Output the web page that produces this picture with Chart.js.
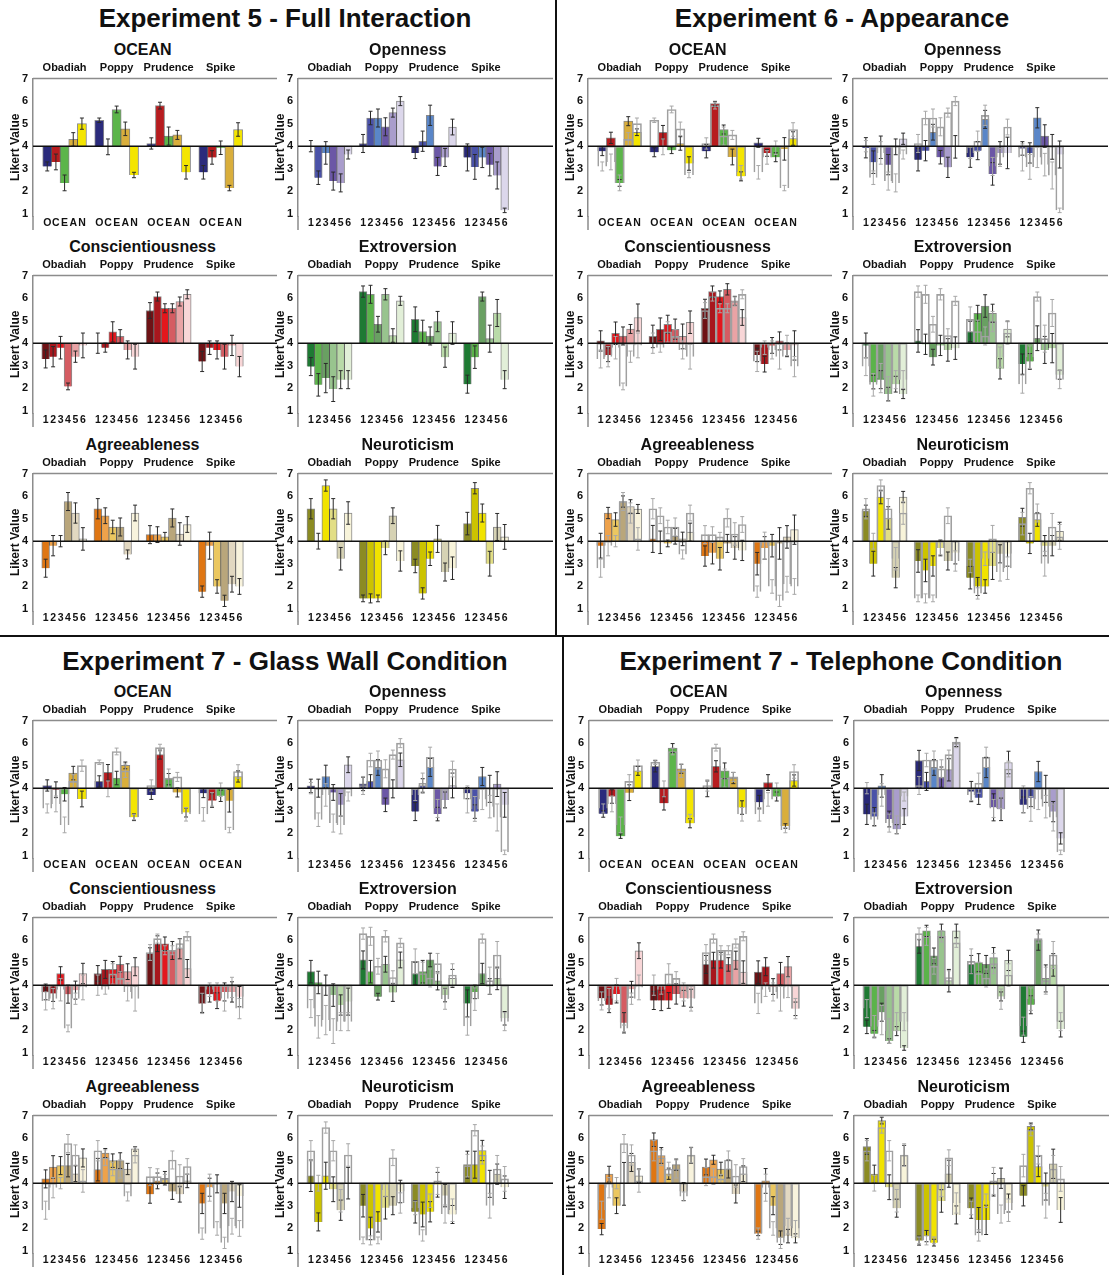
<!DOCTYPE html>
<html>
<head>
<meta charset="utf-8">
<script src="https://cdn.jsdelivr.net/npm/chart.js@4.4.1/dist/chart.umd.min.js"></script>
<style>
  body { margin: 0; background: #fff; }
  #page { position: relative; width: 1109px; height: 1275px; overflow: hidden; font-family: "Liberation Sans", Arial, sans-serif; color: #111; }
  .lbl { position: absolute; transform: translate(-50%, -50%); font-weight: bold; white-space: nowrap; line-height: 1; }
  .rule { position: absolute; background: #111; }
  canvas { position: absolute; }
</style>
</head>
<body>
<div id="page"></div>
<script>
// labels
const groups = ['Obadiah', 'Poppy', 'Prudence', 'Spike'];
const oceanTicks = ['O', 'C', 'E', 'A', 'N'];
const itemTicks = ['1', '2', '3', '4', '5', '6'];
const yTicks = [1, 2, 3, 4, 5, 6, 7];
const traitTitles = ['OCEAN', 'Openness', 'Conscientiousness', 'Extroversion', 'Agreeableness', 'Neuroticism'];
const panelTitles = ['Experiment 5 - Full Interaction', 'Experiment 6 - Appearance', 'Experiment 7 - Glass Wall Condition', 'Experiment 7 - Telephone Condition'];

// bar colours, one per bar inside a group
const oceanColors = ['#2b2b7c', '#b71c1f', '#5cb54a', '#d9ae3c', '#f4e500'];
const openColors = ['#2a2a78', '#4a52a8', '#5a86c8', '#6b57a6', '#a99dcc', '#dcd7eb'];
const consColors = ['#6e1215', '#a8171d', '#e3171d', '#d55c62', '#e9a3a5', '#f8d6d7'];
const extraColors = ['#1e7a33', '#5bb34a', '#69a062', '#98c48e', '#b9daa8', '#e2efd8'];
const agreeColors = ['#df7613', '#eea24b', '#ebc760', '#b9a67b', '#e2d8c1', '#f8f3dd'];
const neuroColors = ['#8b8b23', '#ccc300', '#f1e300', '#e2de85', '#d6d2b4', '#f8f4da'];

// Experiment 5 - full interaction (also shown as outlines in the other panels)
const e5Ocean = [[3.1, 3.3, 2.37, 4.3, 5.0], [5.15, 3.97, 5.63, 4.77, 2.72], [4.12, 5.8, 4.45, 4.5, 2.84], [2.84, 3.5, 3.93, 2.14, 4.74]];
const e5OceanErr = [[0.2, 0.35, 0.35, 0.3, 0.25], [0.1, 0.35, 0.15, 0.3, 0.12], [0.25, 0.15, 0.4, 0.2, 0.3], [0.3, 0.3, 0.3, 0.12, 0.3]];
const e5Open = [[4.0, 2.6, 3.7, 2.45, 2.37, 3.63], [4.12, 5.25, 5.25, 4.86, 5.49, 6.0], [3.7, 4.22, 5.37, 3.1, 3.5, 4.85], [3.5, 3.08, 3.5, 3.18, 2.7, 1.15]];
const e5OpenErr = [[0.25, 0.3, 0.5, 0.4, 0.4, 0.2], [0.4, 0.3, 0.4, 0.4, 0.2, 0.2], [0.25, 0.45, 0.45, 0.4, 0.4, 0.35], [0.6, 0.55, 0.45, 0.5, 0.6, 0.1]];
const e5Cons = [[3.3, 3.4, 3.8, 2.08, 3.4, 3.9], [4.0, 3.8, 4.5, 4.3, 3.7, 3.4], [5.45, 6.07, 5.55, 5.55, 5.85, 6.17], [3.19, 3.8, 3.7, 3.4, 3.9, 2.96]];
const e5ConsErr = [[0.4, 0.45, 0.5, 0.15, 0.25, 0.55], [0.45, 0.2, 0.45, 0.3, 0.4, 0.55], [0.35, 0.2, 0.2, 0.2, 0.2, 0.2], [0.45, 0.3, 0.4, 0.55, 0.45, 0.45]];
const e5Extra = [[2.96, 2.15, 2.45, 1.96, 2.38, 2.38], [6.29, 6.17, 4.84, 6.17, 4.34, 5.88], [5.06, 4.52, 4.32, 4.96, 3.38, 4.45], [2.18, 3.38, 6.07, 4.2, 5.34, 2.38]];
const e5ExtraErr = [[0.4, 0.5, 0.65, 0.55, 0.4, 0.4], [0.25, 0.4, 0.35, 0.25, 0.3, 0.2], [0.55, 0.5, 0.4, 0.45, 0.45, 0.5], [0.4, 0.5, 0.2, 0.6, 0.6, 0.4]];
const e5Agree = [[2.8, 3.8, 4.0, 5.76, 5.25, 4.1], [5.44, 5.13, 4.63, 4.63, 3.41, 5.25], [4.29, 4.29, 4.19, 5.03, 4.32, 4.74], [1.76, 3.8, 1.99, 1.35, 2.09, 1.99]];
const e5AgreeErr = [[0.4, 0.45, 0.25, 0.4, 0.45, 0.5], [0.45, 0.35, 0.3, 0.4, 0.2, 0.35], [0.4, 0.35, 0.2, 0.4, 0.5, 0.35], [0.25, 0.6, 0.3, 0.25, 0.35, 0.35]];
const e5Neuro = [[5.44, 4.0, 6.47, 5.44, 3.22, 5.25], [1.46, 1.46, 1.46, 3.7, 5.13, 3.12], [2.9, 1.68, 3.22, 4.1, 2.63, 2.8], [4.78, 6.35, 5.25, 3.0, 4.63, 4.19]];
const e5NeuroErr = [[0.45, 0.35, 0.25, 0.45, 0.5, 0.5], [0.15, 0.2, 0.15, 0.3, 0.35, 0.45], [0.3, 0.25, 0.3, 0.6, 0.4, 0.5], [0.5, 0.25, 0.4, 0.55, 0.6, 0.55]];

// Experiment 6 - appearance
const e6Ocean = [[3.78, 4.37, 2.37, 5.11, 4.62], [3.73, 4.62, 3.82, 4.12, 3.23], [3.78, 5.89, 4.74, 3.52, 2.66], [4.15, 3.7, 3.51, 3.88, 4.34]];
const e6OceanErr = [[0.2, 0.25, 0.15, 0.2, 0.15], [0.2, 0.3, 0.15, 0.3, 0.3], [0.3, 0.1, 0.2, 0.35, 0.2], [0.2, 0.15, 0.2, 0.5, 0.3]];
const e6Open = [[3.93, 3.29, 3.95, 3.18, 3.97, 4.33], [3.4, 3.8, 4.62, 3.51, 3.06, 3.97], [3.51, 3.8, 5.19, 2.77, 3.7, 3.7], [3.9, 3.7, 5.26, 4.45, 3.97, 3.63]];
const e6OpenErr = [[0.45, 0.5, 0.5, 0.45, 0.35, 0.25], [0.5, 0.45, 0.35, 0.3, 0.45, 0.5], [0.45, 0.4, 0.4, 0.5, 0.5, 0.7], [0.3, 0.45, 0.45, 0.5, 0.55, 0.6]];
const e6Cons = [[4.1, 3.48, 4.44, 4.32, 4.63, 5.14], [4.3, 4.62, 4.84, 4.62, 4.3, 4.93], [5.55, 6.29, 6.07, 6.39, 5.88, 5.14], [3.48, 3.07, 3.9, 4.1, 3.7, 3.9]];
const e6ConsErr = [[0.45, 0.3, 0.5, 0.4, 0.2, 0.6], [0.5, 0.5, 0.4, 0.45, 0.55, 0.5], [0.4, 0.25, 0.25, 0.25, 0.2, 0.35], [0.3, 0.35, 0.35, 0.4, 0.3, 0.65]];
const e6Extra = [[3.9, 2.27, 2.38, 1.74, 2.18, 1.74], [4.1, 3.95, 3.38, 3.9, 3.7, 3.78], [4.52, 5.33, 5.65, 5.33, 2.86, 4.63], [3.07, 3.19, 4.22, 3.7, 3.78, 2.6]];
const e6ExtraErr = [[0.55, 0.3, 0.4, 0.3, 0.35, 0.2], [0.5, 0.45, 0.35, 0.45, 0.5, 0.5], [0.45, 0.35, 0.5, 0.4, 0.45, 0.35], [0.45, 0.35, 0.55, 0.6, 0.65, 0.2]];
const e6Agree = [[3.8, 5.25, 4.96, 5.76, 5.54, 5.43], [4.1, 3.95, 3.9, 4.22, 4.1, 4.4], [3.34, 3.49, 3.22, 3.9, 3.7, 3.59], [3.0, 3.7, 3.8, 3.9, 4.19, 4.51]];
const e6AgreeErr = [[0.55, 0.25, 0.3, 0.25, 0.3, 0.2], [0.6, 0.5, 0.15, 0.35, 0.3, 0.4], [0.45, 0.5, 0.5, 0.4, 0.5, 0.45], [0.5, 0.5, 0.5, 0.7, 0.5, 0.65]];
const e6Neuro = [[5.35, 3.0, 5.96, 5.03, 2.38, 5.96], [3.12, 2.7, 2.9, 3.7, 3.12, 3.49], [2.38, 1.99, 1.99, 2.9, 3.44, 3.44], [5.06, 3.9, 4.96, 3.8, 3.8, 4.44]];
const e6NeuroErr = [[0.25, 0.55, 0.3, 0.5, 0.45, 0.25], [0.5, 0.5, 0.45, 0.35, 0.4, 0.5], [0.5, 0.4, 0.3, 0.6, 0.4, 0.55], [0.4, 0.45, 0.3, 0.45, 0.45, 0.4]];

// Experiment 7 - glass wall
const g7Ocean = [[4.12, 3.93, 3.73, 4.67, 3.52], [4.3, 4.7, 4.45, 5.01, 2.71], [3.7, 5.49, 4.4, 3.81, 2.92], [3.78, 3.45, 3.66, 3.44, 4.52]];
const g7OceanErr = [[0.25, 0.35, 0.3, 0.3, 0.35], [0.25, 0.35, 0.3, 0.15, 0.15], [0.2, 0.2, 0.25, 0.2, 0.2], [0.2, 0.3, 0.25, 0.5, 0.25]];
const g7Open = [[4.1, 4.0, 4.52, 3.81, 3.26, 5.04], [4.19, 4.3, 4.92, 3.26, 3.97, 5.26], [2.96, 4.12, 4.92, 2.85, 3.48, 4.12], [3.78, 2.96, 4.52, 3.97, 4.18, 3.26]];
const g7OpenErr = [[0.3, 0.4, 0.5, 0.35, 0.5, 0.35], [0.3, 0.3, 0.35, 0.3, 0.4, 0.3], [0.4, 0.3, 0.4, 0.3, 0.35, 0.55], [0.25, 0.3, 0.4, 0.6, 0.55, 0.55]];
const g7Cons = [[3.7, 3.63, 4.52, 3.6, 3.78, 4.52], [4.52, 4.7, 4.7, 4.93, 4.6, 4.82], [5.41, 5.84, 5.84, 5.54, 5.62, 4.74], [3.19, 3.6, 3.31, 3.7, 3.7, 3.49]];
const g7ConsErr = [[0.35, 0.35, 0.3, 0.4, 0.4, 0.45], [0.35, 0.4, 0.35, 0.35, 0.35, 0.4], [0.25, 0.35, 0.3, 0.4, 0.45, 0.4], [0.4, 0.35, 0.35, 0.4, 0.45, 0.45]];
const g7Extra = [[4.6, 4.12, 4.0, 3.56, 3.12, 3.27], [5.12, 4.6, 3.49, 4.93, 3.68, 5.12], [4.52, 4.6, 5.12, 4.19, 3.56, 4.3], [3.19, 3.7, 4.52, 3.94, 4.3, 2.53]];
const g7ExtraErr = [[0.5, 0.5, 0.45, 0.5, 0.45, 0.6], [0.4, 0.5, 0.15, 0.35, 0.4, 0.35], [0.5, 0.5, 0.3, 0.4, 0.3, 0.4], [0.6, 0.3, 0.45, 0.35, 0.5, 0.3]];
const g7Agree = [[4.19, 4.72, 4.78, 4.78, 4.42, 5.12], [4.6, 5.34, 5.0, 5.0, 4.63, 5.52], [3.51, 4.1, 4.22, 3.63, 3.51, 4.1], [3.1, 3.82, 3.97, 3.1, 3.63, 3.43]];
const g7AgreeErr = [[0.4, 0.5, 0.4, 0.5, 0.35, 0.4], [0.5, 0.2, 0.3, 0.35, 0.25, 0.1], [0.4, 0.35, 0.3, 0.35, 0.35, 0.3], [0.45, 0.4, 0.4, 0.45, 0.45, 0.5]];
const g7Neuro = [[4.33, 2.28, 4.33, 3.73, 2.8, 4.0], [3.0, 1.99, 2.28, 2.91, 3.0, 3.63], [2.73, 2.61, 2.73, 3.93, 3.45, 2.61], [4.82, 4.82, 5.45, 3.97, 4.4, 3.82]];
const g7NeuroErr = [[0.7, 0.4, 0.6, 0.55, 0.45, 0.7], [0.5, 0.5, 0.45, 0.5, 0.4, 0.5], [0.5, 0.55, 0.45, 0.55, 0.5, 0.4], [0.6, 0.6, 0.45, 0.6, 0.45, 0.5]];

// Experiment 7 - telephone
const t7Ocean = [[2.86, 3.63, 1.87, 3.8, 4.77], [4.97, 3.33, 5.78, 4.86, 2.44], [3.97, 4.97, 4.77, 4.45, 3.14], [3.38, 4.25, 3.63, 2.32, 4.34]];
const t7OceanErr = [[0.15, 0.3, 0.1, 0.35, 0.2], [0.25, 0.3, 0.2, 0.2, 0.2], [0.35, 0.25, 0.35, 0.25, 0.3], [0.3, 0.35, 0.2, 0.1, 0.25]];
const t7Open = [[2.84, 2.74, 4.1, 2.63, 2.18, 2.74], [5.23, 4.3, 4.92, 4.49, 4.82, 6.05], [3.85, 3.58, 4.92, 3.15, 3.06, 5.14], [3.26, 3.58, 4.74, 3.97, 2.96, 1.77]];
const t7OpenErr = [[0.45, 0.4, 0.5, 0.35, 0.2, 0.35], [0.45, 0.4, 0.35, 0.45, 0.5, 0.2], [0.45, 0.3, 0.45, 0.6, 0.5, 0.5], [0.35, 0.4, 0.45, 0.6, 0.45, 0.25]];
const t7Cons = [[3.42, 3.13, 3.61, 2.33, 3.82, 5.53], [3.32, 3.32, 3.32, 3.61, 3.42, 3.42], [4.92, 5.11, 5.11, 4.92, 5.11, 4.58], [4.58, 4.82, 3.94, 4.51, 4.82, 2.95]];
const t7ConsErr = [[0.3, 0.35, 0.4, 0.45, 0.35, 0.35], [0.4, 0.45, 0.35, 0.45, 0.35, 0.4], [0.4, 0.35, 0.35, 0.3, 0.4, 0.5], [0.5, 0.4, 0.35, 0.5, 0.45, 0.3]];
const t7Extra = [[2.15, 1.84, 2.8, 1.52, 1.96, 1.21], [5.72, 6.41, 5.3, 6.41, 4.2, 6.41], [4.92, 5.0, 4.92, 5.22, 3.5, 5.1], [1.71, 3.13, 6.0, 4.3, 4.9, 2.05]];
const t7ExtraErr = [[0.3, 0.15, 0.4, 0.1, 0.2, 0.1], [0.3, 0.25, 0.35, 0.3, 0.5, 0.3], [0.4, 0.4, 0.4, 0.45, 0.2, 0.45], [0.25, 0.4, 0.45, 0.6, 0.5, 0.35]];
const t7Agree = [[1.96, 4.4, 3.0, 3.97, 4.92, 4.33], [5.93, 5.23, 4.42, 4.82, 3.63, 5.23], [4.72, 5.04, 4.63, 4.63, 3.52, 4.42], [1.77, 4.1, 3.0, 1.58, 1.65, 1.55]];
const t7AgreeErr = [[0.25, 0.35, 0.35, 0.95, 0.4, 0.3], [0.3, 0.35, 0.25, 0.25, 0.4, 0.35], [0.35, 0.2, 0.3, 0.4, 0.4, 0.35], [0.1, 0.55, 0.4, 0.3, 0.3, 0.2]];
const t7Neuro = [[5.63, 4.4, 6.78, 3.82, 2.89, 5.23], [1.45, 1.65, 1.36, 3.21, 4.42, 2.59], [2.89, 2.37, 2.37, 3.93, 4.22, 3.12], [3.44, 6.52, 4.74, 3.85, 4.86, 2.81]];
const t7NeuroErr = [[0.35, 0.4, 0.15, 0.55, 0.4, 0.45], [0.2, 0.25, 0.15, 0.5, 0.6, 0.4], [0.45, 0.55, 0.65, 0.5, 0.45, 0.4], [0.45, 0.15, 0.45, 0.6, 0.65, 0.55]];

const traitColors = [oceanColors, openColors, consColors, extraColors, agreeColors, neuroColors];
const e5Values = [e5Ocean, e5Open, e5Cons, e5Extra, e5Agree, e5Neuro];
const e5Errors = [e5OceanErr, e5OpenErr, e5ConsErr, e5ExtraErr, e5AgreeErr, e5NeuroErr];
const e6Values = [e6Ocean, e6Open, e6Cons, e6Extra, e6Agree, e6Neuro];
const e6Errors = [e6OceanErr, e6OpenErr, e6ConsErr, e6ExtraErr, e6AgreeErr, e6NeuroErr];
const g7Values = [g7Ocean, g7Open, g7Cons, g7Extra, g7Agree, g7Neuro];
const g7Errors = [g7OceanErr, g7OpenErr, g7ConsErr, g7ExtraErr, g7AgreeErr, g7NeuroErr];
const t7Values = [t7Ocean, t7Open, t7Cons, t7Extra, t7Agree, t7Neuro];
const t7Errors = [t7OceanErr, t7OpenErr, t7ConsErr, t7ExtraErr, t7AgreeErr, t7NeuroErr];

Chart.defaults.font.family = '"Liberation Sans", Arial, sans-serif';
Chart.defaults.color = '#111';

const page = document.getElementById('page');

function addText(text, cx, cy, size) {
    const d = document.createElement('div');
    d.className = 'lbl';
    d.textContent = text;
    d.style.left = cx + 'px';
    d.style.top = cy + 'px';
    d.style.fontSize = size + 'px';
    page.appendChild(d);
}

function addRule(x, y, w, h) {
    const d = document.createElement('div');
    d.className = 'rule';
    Object.assign(d.style, { left: x + 'px', top: y + 'px', width: w + 'px', height: h + 'px' });
    page.appendChild(d);
}

// error bars, the line at 4 and the frame lines
const likertDecor = {
    id: 'likertDecor',
    afterDatasetsDraw(chart) {
        const ctx = chart.ctx;
        const ys = chart.scales.y;
        const area = chart.chartArea;
        ctx.save();
        chart.data.datasets.forEach((ds, i) => {
            const meta = chart.getDatasetMeta(i);
            ctx.strokeStyle = ds.ghost ? '#a8a8a8' : '#2a2a2a';
            ctx.lineWidth = 1;
            meta.data.forEach((bar, j) => {
                const v = ds.data[j].y[1];
                const e = ds.errors[j];
                const y1 = ys.getPixelForValue(v - e);
                const y2 = ys.getPixelForValue(v + e);
                ctx.beginPath();
                ctx.moveTo(bar.x, y1); ctx.lineTo(bar.x, y2);
                ctx.moveTo(bar.x - 2, y1); ctx.lineTo(bar.x + 2, y1);
                ctx.moveTo(bar.x - 2, y2); ctx.lineTo(bar.x + 2, y2);
                ctx.stroke();
            });
        });
        const y4 = ys.getPixelForValue(4);
        ctx.strokeStyle = '#111';
        ctx.lineWidth = 1.5;
        ctx.beginPath();
        ctx.moveTo(area.left, y4); ctx.lineTo(area.right, y4);
        ctx.stroke();
        ctx.strokeStyle = '#8c8c8c';
        ctx.beginPath();
        ctx.moveTo(area.left, area.top); ctx.lineTo(area.right, area.top);
        ctx.moveTo(area.left, area.bottom); ctx.lineTo(area.left, area.bottom + 16);
        ctx.stroke();
        ctx.restore();
    }
};

const rowTop = [77, 274, 472];

function drawPanel(ox, oy, t, vals, errs, ghostVals, ghostErrs) {
    const row = Math.floor(t / 2), col = t % 2;
    const axisX = col ? 298 : 33;
    const plotW = col ? 255 : 244;
    const nBars = t === 0 ? 5 : 6;
    const pitch = nBars + 1;
    const ticks = t === 0 ? oceanTicks : itemTicks;
    const colors = traitColors[t];
    const unit = 210 / (4 * pitch - 1);
    const xMin = -0.5 - 4 / unit;
    const xMax = xMin + plotW / unit;

    const positions = [];
    groups.forEach((g, gi) => { for (let i = 0; i < nBars; i++) positions.push(gi * pitch + i); });
    const flat = a => a.flat();
    const toData = arr => flat(arr).map((v, k) => ({ x: positions[k], y: [4, v] }));

    const datasets = [{
        data: toData(vals),
        errors: flat(errs),
        backgroundColor: positions.map(p => colors[p % pitch]),
        borderColor: 'rgba(40,40,40,0.55)',
        borderWidth: 1,
        grouped: false,
        order: 1,
        barThickness: unit
    }];
    if (ghostVals) {
        datasets.push({
            ghost: true,
            data: toData(ghostVals),
            errors: flat(ghostErrs),
            backgroundColor: 'rgba(255,255,255,0)',
            borderColor: '#a0a0a0',
            borderWidth: 1,
            grouped: false,
            order: 0,
            barThickness: unit
        });
    }

    const canvas = document.createElement('canvas');
    const left = ox + axisX - 33;
    const top = oy + rowTop[row] - 10;
    canvas.width = 33 + plotW + 2;
    canvas.height = 163;
    canvas.style.left = left + 'px';
    canvas.style.top = top + 'px';
    page.appendChild(canvas);

    const chart = new Chart(canvas.getContext('2d'), {
        type: 'bar',
        data: { datasets },
        plugins: [likertDecor],
        options: {
            responsive: false,
            animation: false,
            layout: { padding: { top: 10, right: 2, bottom: 0, left: 0 } },
            plugins: { legend: { display: false }, tooltip: { enabled: false } },
            scales: {
                x: {
                    type: 'linear',
                    min: xMin,
                    max: xMax,
                    grid: { display: false, drawTicks: false },
                    border: { display: false },
                    afterBuildTicks: ax => { ax.ticks = positions.map(v => ({ value: v })); },
                    afterFit: ax => { ax.height = 14; },
                    ticks: {
                        autoSkip: false,
                        maxRotation: 0,
                        padding: 1,
                        font: { size: 10.5, weight: 'bold' },
                        callback: v => ticks[Math.round(v) % pitch]
                    }
                },
                y: {
                    min: 0.9,
                    max: 7,
                    afterBuildTicks: ax => { ax.ticks = yTicks.map(v => ({ value: v })); },
                    afterFit: ax => { ax.width = 33; },
                    grid: { display: false, drawTicks: false },
                    border: { display: true, color: '#8c8c8c', width: 1.5 },
                    ticks: { padding: 5, font: { size: 11, weight: 'bold' } },
                    title: { display: true, text: 'Likert Value', font: { size: 12, weight: 'bold' }, padding: { top: 8, bottom: 0 } }
                }
            }
        }
    });

    // titles over the bars
    const xs = chart.scales.x;
    addText(traitTitles[t], left + xs.getPixelForValue((4 * pitch - 2) / 2), oy + rowTop[row] - 27, 16);
    groups.forEach((g, gi) => {
        addText(g, left + xs.getPixelForValue(gi * pitch + (nBars - 1) / 2), oy + rowTop[row] - 10, 11);
    });
}

const quadrants = [
    { x: 0, y: 0, vals: e5Values, errs: e5Errors, ghost: false, tx: 285, ty: 18 },
    { x: 555, y: 0, vals: e6Values, errs: e6Errors, ghost: true, tx: 842, ty: 18 },
    { x: 0, y: 642, vals: g7Values, errs: g7Errors, ghost: true, tx: 285, ty: 661 },
    { x: 556, y: 642, vals: t7Values, errs: t7Errors, ghost: true, tx: 841, ty: 661 }
];

quadrants.forEach((q, qi) => {
    addText(panelTitles[qi], q.tx, q.ty, 26);
    for (let t = 0; t < 6; t++) {
        drawPanel(q.x, q.y, t, q.vals[t], q.errs[t], q.ghost ? e5Values[t] : null, q.ghost ? e5Errors[t] : null);
    }
});

// quadrant dividers
addRule(555, 0, 2, 636);
addRule(562, 636, 2, 639);
addRule(0, 635, 1109, 2);
</script>
</body>
</html>
